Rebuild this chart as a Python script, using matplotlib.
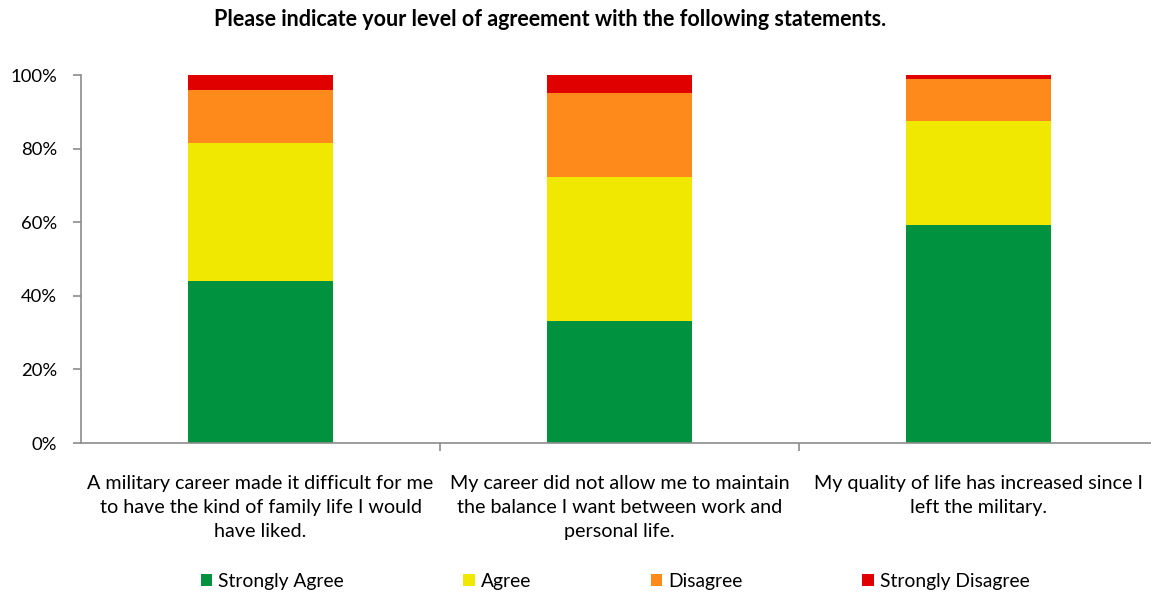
import numpy as np
import matplotlib
matplotlib.use("Agg")
import matplotlib.pyplot as plt
from matplotlib.ticker import PercentFormatter, FixedLocator

plt.rcParams['font.family'] = ['Lato', 'DejaVu Sans']

# Statements (x categories) and share of responses per level, in %
statements = [
    "A military career made it difficult for me\nto have the kind of family life I would\nhave liked.",
    "My career did not allow me to maintain\nthe balance I want between work and\npersonal life.",
    "My quality of life has increased since I\nleft the military.",
]
levels = ["Strongly Agree", "Agree", "Disagree", "Strongly Disagree"]
strongly_agree = [44.0, 33.2, 59.3]
agree = [37.5, 39.1, 28.3]
disagree = [14.4, 22.9, 11.4]
strongly_disagree = [4.1, 4.8, 1.0]
colors = ["#00923F", "#F0E800", "#FD8A1A", "#E00000"]

fig = plt.figure(figsize=(11.51, 5.94), dpi=100)
ax = fig.add_axes([81 / 1151, 1 - 443 / 594, 1077 / 1151, 368 / 594])

x = np.arange(len(statements))
bottom = np.zeros(len(statements))
for name, vals, c in zip(levels, [strongly_agree, agree, disagree, strongly_disagree], colors):
    ax.bar(x, vals, bottom=bottom, width=0.405, color=c, label=name, zorder=2)
    bottom += np.array(vals)

ax.set_xlim(-0.5, 2.5)
ax.set_ylim(0, 100)
ax.yaxis.set_major_locator(FixedLocator([0, 20, 40, 60, 80, 100]))
ax.yaxis.set_major_formatter(PercentFormatter(decimals=0))

# category labels under each bar, dividers between categories
ax.set_xticks(x)
ax.set_xticklabels(statements, fontsize=14.2, linespacing=1.5)
ax.set_xticks([0.5, 1.5], minor=True)
ax.tick_params(axis="x", which="major", length=0, pad=23)
ax.tick_params(axis="x", which="minor", length=6, width=1.2, color="#8c8c8c")
ax.tick_params(axis="y", length=6, width=1.2, color="#8c8c8c", labelsize=13.3, pad=11)

for side in ["top", "right"]:
    ax.spines[side].set_visible(False)
for side in ["left", "bottom"]:
    ax.spines[side].set_color("#8c8c8c")
    ax.spines[side].set_linewidth(1.2)

fig.text(550 / 1151, 1 - 20 / 594, "Please indicate your level of agreement with the following statements.",
         ha="center", va="center", fontsize=15.5, fontweight="bold")

fig.legend(loc="center", bbox_to_anchor=(615 / 1151, 1 - 581 / 594), ncol=4, frameon=False,
           fontsize=13.9, handlelength=0.6, handleheight=0.6, handletextpad=0.3,
           columnspacing=6.2)

fig.savefig("out.png", dpi=100)
